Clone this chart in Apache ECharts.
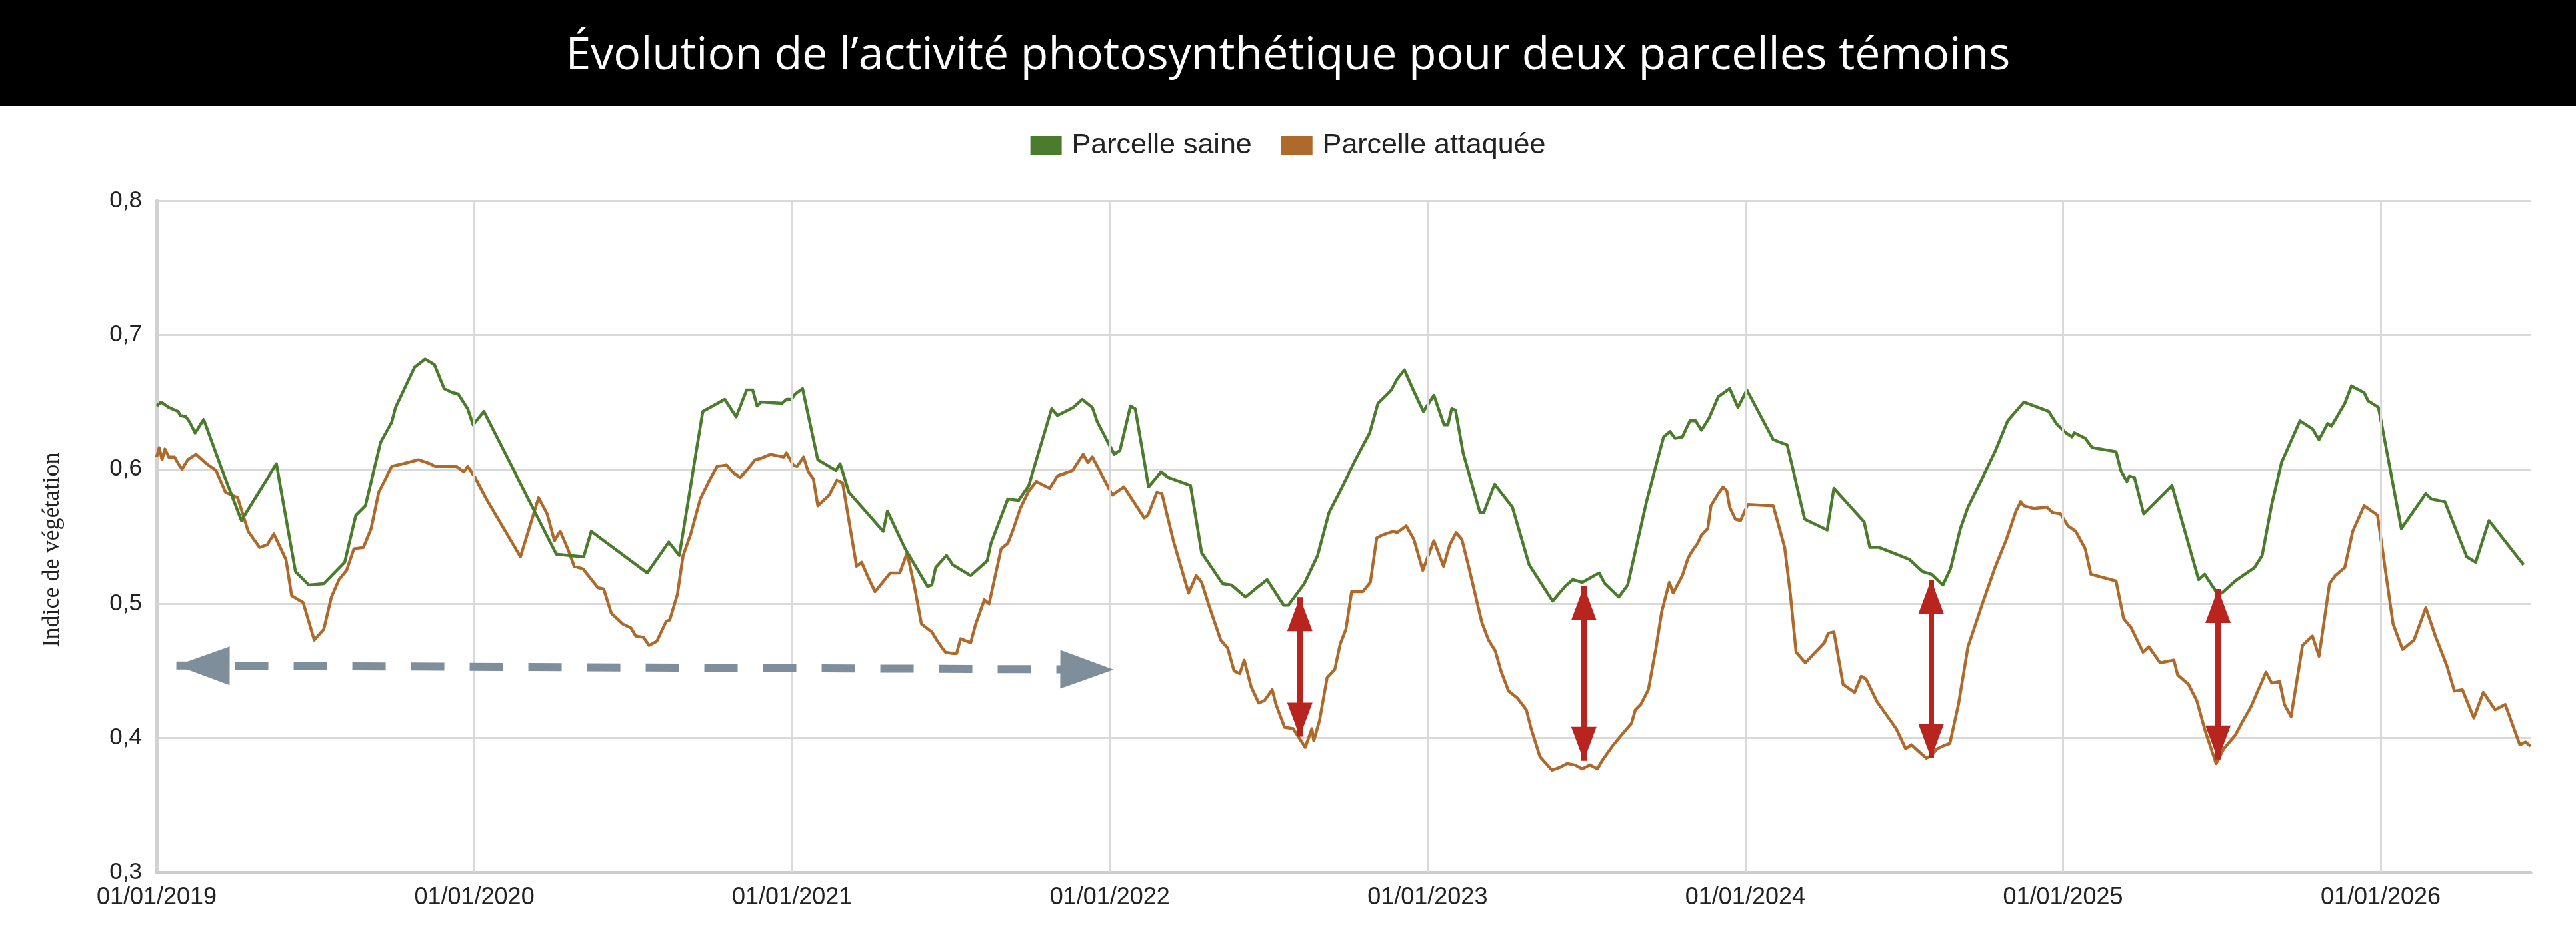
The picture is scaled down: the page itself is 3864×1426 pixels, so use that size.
<!DOCTYPE html>
<html>
<head>
<meta charset="utf-8">
<script src="https://cdn.jsdelivr.net/npm/echarts@6/dist/echarts.min.js"></script>
<style>
  html, body { margin: 0; padding: 0; background: #fff; }
  #chart { width: 3864px; height: 1426px; }
</style>
</head>
<body>
<div id="chart"></div>
<script>
// time is in decimal years (2019.5 = mid 2019)
var titleText = 'Évolution de l’activité photosynthétique pour deux parcelles témoins';
var seriesNames = ['Parcelle saine', 'Parcelle attaquée'];
var yearTicks = [2019, 2020, 2021, 2022, 2023, 2024, 2025, 2026];

var saine = [
    [2019.000, 0.647], [2019.014, 0.650], [2019.038, 0.646], [2019.068, 0.643], [2019.074, 0.640],
    [2019.092, 0.639], [2019.104, 0.635], [2019.121, 0.627], [2019.148, 0.637], [2019.205, 0.600],
    [2019.267, 0.562], [2019.282, 0.568], [2019.377, 0.604], [2019.437, 0.524], [2019.479, 0.514],
    [2019.526, 0.515], [2019.592, 0.531], [2019.627, 0.566], [2019.657, 0.573], [2019.705, 0.620],
    [2019.740, 0.635], [2019.752, 0.646], [2019.812, 0.676], [2019.845, 0.682], [2019.874, 0.678],
    [2019.905, 0.660], [2019.931, 0.657], [2019.949, 0.656], [2019.979, 0.645], [2019.996, 0.633],
    [2020.030, 0.643], [2020.258, 0.537], [2020.300, 0.536], [2020.344, 0.535], [2020.368, 0.554],
    [2020.544, 0.523], [2020.612, 0.546], [2020.645, 0.536], [2020.719, 0.643], [2020.788, 0.652],
    [2020.824, 0.639], [2020.857, 0.659], [2020.876, 0.659], [2020.890, 0.647], [2020.902, 0.650],
    [2020.968, 0.649], [2020.983, 0.652], [2020.998, 0.652], [2021.010, 0.656], [2021.033, 0.660],
    [2021.081, 0.607], [2021.138, 0.599], [2021.151, 0.604], [2021.179, 0.583], [2021.287, 0.554],
    [2021.300, 0.569], [2021.356, 0.541], [2021.426, 0.513], [2021.440, 0.514], [2021.452, 0.527],
    [2021.486, 0.536], [2021.506, 0.529], [2021.562, 0.521], [2021.614, 0.532], [2021.626, 0.545],
    [2021.679, 0.578], [2021.713, 0.577], [2021.745, 0.588], [2021.817, 0.645], [2021.835, 0.640],
    [2021.885, 0.646], [2021.913, 0.652], [2021.945, 0.646], [2021.961, 0.635], [2022.014, 0.611],
    [2022.032, 0.614], [2022.065, 0.647], [2022.080, 0.645], [2022.122, 0.587], [2022.161, 0.598],
    [2022.184, 0.594], [2022.254, 0.588], [2022.289, 0.538], [2022.355, 0.515], [2022.383, 0.514],
    [2022.427, 0.505], [2022.463, 0.512], [2022.495, 0.518], [2022.547, 0.499], [2022.562, 0.499],
    [2022.612, 0.515], [2022.654, 0.536], [2022.690, 0.568], [2022.725, 0.584], [2022.773, 0.607],
    [2022.818, 0.627], [2022.844, 0.649], [2022.874, 0.656], [2022.886, 0.659], [2022.904, 0.667],
    [2022.927, 0.674], [2022.957, 0.658], [2022.987, 0.643], [2023.020, 0.655], [2023.052, 0.633],
    [2023.064, 0.633], [2023.076, 0.645], [2023.088, 0.644], [2023.112, 0.612], [2023.165, 0.568],
    [2023.177, 0.568], [2023.211, 0.589], [2023.267, 0.572], [2023.320, 0.529], [2023.394, 0.502],
    [2023.433, 0.513], [2023.457, 0.518], [2023.487, 0.516], [2023.540, 0.523], [2023.558, 0.515],
    [2023.602, 0.505], [2023.630, 0.514], [2023.689, 0.576], [2023.743, 0.624], [2023.763, 0.628],
    [2023.779, 0.623], [2023.802, 0.624], [2023.826, 0.636], [2023.844, 0.636], [2023.862, 0.629],
    [2023.886, 0.638], [2023.915, 0.654], [2023.951, 0.660], [2023.977, 0.646], [2024.005, 0.659],
    [2024.088, 0.622], [2024.132, 0.618], [2024.187, 0.563], [2024.258, 0.555], [2024.279, 0.586],
    [2024.374, 0.561], [2024.392, 0.542], [2024.421, 0.542], [2024.475, 0.537], [2024.517, 0.533],
    [2024.558, 0.524], [2024.586, 0.522], [2024.622, 0.514], [2024.646, 0.526], [2024.677, 0.556],
    [2024.701, 0.572], [2024.743, 0.592], [2024.786, 0.613], [2024.826, 0.636], [2024.877, 0.650],
    [2024.955, 0.643], [2024.979, 0.634], [2025.004, 0.628], [2025.028, 0.624], [2025.036, 0.627],
    [2025.070, 0.623], [2025.092, 0.616], [2025.167, 0.613], [2025.182, 0.599], [2025.201, 0.591],
    [2025.209, 0.595], [2025.225, 0.594], [2025.254, 0.567], [2025.343, 0.588], [2025.427, 0.518],
    [2025.446, 0.522], [2025.482, 0.509], [2025.500, 0.508], [2025.542, 0.517], [2025.603, 0.527],
    [2025.627, 0.536], [2025.657, 0.574], [2025.688, 0.605], [2025.746, 0.636], [2025.785, 0.630],
    [2025.806, 0.622], [2025.833, 0.634], [2025.845, 0.632], [2025.887, 0.649], [2025.908, 0.662],
    [2025.948, 0.657], [2025.960, 0.651], [2025.993, 0.646], [2026.065, 0.556], [2026.142, 0.582],
    [2026.160, 0.578], [2026.202, 0.576], [2026.271, 0.535], [2026.299, 0.531], [2026.341, 0.562],
    [2026.450, 0.529]
];

var attaquee = [
    [2019.000, 0.609], [2019.008, 0.616], [2019.017, 0.607], [2019.026, 0.615], [2019.038, 0.609],
    [2019.056, 0.609], [2019.068, 0.604], [2019.080, 0.600], [2019.098, 0.607], [2019.124, 0.611],
    [2019.157, 0.604], [2019.187, 0.599], [2019.217, 0.583], [2019.255, 0.579], [2019.288, 0.554],
    [2019.324, 0.542], [2019.348, 0.544], [2019.369, 0.552], [2019.407, 0.533], [2019.425, 0.506],
    [2019.461, 0.501], [2019.496, 0.473], [2019.526, 0.481], [2019.550, 0.505], [2019.574, 0.518],
    [2019.598, 0.525], [2019.621, 0.541], [2019.651, 0.542], [2019.675, 0.556], [2019.699, 0.583],
    [2019.740, 0.602], [2019.776, 0.604], [2019.824, 0.607], [2019.860, 0.604], [2019.877, 0.602],
    [2019.943, 0.602], [2019.967, 0.598], [2019.979, 0.602], [2020.002, 0.594], [2020.038, 0.578],
    [2020.145, 0.535], [2020.202, 0.579], [2020.229, 0.567], [2020.252, 0.547], [2020.270, 0.554],
    [2020.294, 0.541], [2020.314, 0.528], [2020.342, 0.526], [2020.389, 0.512], [2020.407, 0.511],
    [2020.431, 0.493], [2020.467, 0.485], [2020.493, 0.482], [2020.508, 0.476], [2020.532, 0.475],
    [2020.550, 0.469], [2020.574, 0.472], [2020.604, 0.487], [2020.615, 0.488], [2020.639, 0.507],
    [2020.657, 0.536], [2020.681, 0.552], [2020.711, 0.578], [2020.740, 0.592], [2020.764, 0.602],
    [2020.794, 0.603], [2020.812, 0.598], [2020.836, 0.594], [2020.857, 0.599], [2020.884, 0.607],
    [2020.902, 0.608], [2020.932, 0.611], [2020.974, 0.609], [2020.982, 0.612], [2021.004, 0.603],
    [2021.016, 0.602], [2021.036, 0.609], [2021.051, 0.598], [2021.067, 0.593], [2021.081, 0.573],
    [2021.117, 0.581], [2021.141, 0.592], [2021.159, 0.590], [2021.203, 0.528], [2021.219, 0.531],
    [2021.237, 0.521], [2021.261, 0.509], [2021.309, 0.523], [2021.339, 0.523], [2021.362, 0.538],
    [2021.386, 0.512], [2021.407, 0.485], [2021.440, 0.479], [2021.458, 0.472], [2021.482, 0.464],
    [2021.506, 0.463], [2021.518, 0.463], [2021.530, 0.474], [2021.562, 0.471], [2021.578, 0.485],
    [2021.605, 0.503], [2021.620, 0.500], [2021.658, 0.541], [2021.679, 0.545], [2021.697, 0.556],
    [2021.718, 0.571], [2021.745, 0.584], [2021.769, 0.591], [2021.793, 0.588], [2021.811, 0.586],
    [2021.835, 0.595], [2021.883, 0.599], [2021.916, 0.611], [2021.931, 0.605], [2021.945, 0.609],
    [2022.008, 0.581], [2022.044, 0.587], [2022.050, 0.585], [2022.108, 0.564], [2022.120, 0.566],
    [2022.148, 0.583], [2022.164, 0.582], [2022.200, 0.547], [2022.248, 0.508], [2022.272, 0.521],
    [2022.289, 0.516], [2022.313, 0.498], [2022.349, 0.473], [2022.371, 0.467], [2022.391, 0.450],
    [2022.409, 0.448], [2022.423, 0.458], [2022.445, 0.438], [2022.469, 0.426], [2022.487, 0.428],
    [2022.511, 0.436], [2022.523, 0.425], [2022.550, 0.408], [2022.577, 0.407], [2022.615, 0.393],
    [2022.636, 0.407], [2022.642, 0.398], [2022.660, 0.413], [2022.684, 0.445], [2022.708, 0.451],
    [2022.725, 0.470], [2022.743, 0.481], [2022.761, 0.509], [2022.796, 0.509], [2022.820, 0.516],
    [2022.840, 0.549], [2022.856, 0.551], [2022.892, 0.554], [2022.904, 0.553], [2022.933, 0.558],
    [2022.957, 0.548], [2022.985, 0.525], [2023.020, 0.547], [2023.050, 0.528], [2023.070, 0.544],
    [2023.090, 0.553], [2023.108, 0.548], [2023.130, 0.527], [2023.171, 0.486], [2023.192, 0.473],
    [2023.213, 0.465], [2023.231, 0.450], [2023.255, 0.435], [2023.282, 0.430], [2023.311, 0.421],
    [2023.326, 0.407], [2023.354, 0.386], [2023.392, 0.376], [2023.415, 0.378], [2023.439, 0.381],
    [2023.463, 0.380], [2023.487, 0.377], [2023.511, 0.380], [2023.535, 0.377], [2023.549, 0.383],
    [2023.582, 0.394], [2023.606, 0.401], [2023.624, 0.406], [2023.642, 0.411], [2023.654, 0.421],
    [2023.671, 0.425], [2023.695, 0.436], [2023.719, 0.467], [2023.737, 0.494], [2023.761, 0.516],
    [2023.773, 0.508], [2023.802, 0.521], [2023.820, 0.534], [2023.832, 0.539], [2023.850, 0.545],
    [2023.862, 0.551], [2023.882, 0.556], [2023.892, 0.573], [2023.915, 0.582], [2023.930, 0.587],
    [2023.942, 0.584], [2023.951, 0.572], [2023.969, 0.563], [2023.985, 0.562], [2024.008, 0.574],
    [2024.088, 0.573], [2024.124, 0.542], [2024.142, 0.507], [2024.160, 0.464], [2024.189, 0.456],
    [2024.249, 0.471], [2024.261, 0.478], [2024.279, 0.479], [2024.308, 0.440], [2024.344, 0.434],
    [2024.365, 0.446], [2024.380, 0.444], [2024.415, 0.427], [2024.475, 0.407], [2024.505, 0.392],
    [2024.523, 0.395], [2024.546, 0.390], [2024.570, 0.385], [2024.586, 0.387], [2024.604, 0.392],
    [2024.622, 0.394], [2024.644, 0.396], [2024.671, 0.425], [2024.701, 0.468], [2024.749, 0.502],
    [2024.786, 0.527], [2024.822, 0.548], [2024.852, 0.569], [2024.867, 0.576], [2024.877, 0.573],
    [2024.907, 0.571], [2024.949, 0.572], [2024.967, 0.568], [2024.992, 0.567], [2025.016, 0.558],
    [2025.040, 0.554], [2025.070, 0.541], [2025.088, 0.522], [2025.167, 0.517], [2025.191, 0.489],
    [2025.215, 0.482], [2025.252, 0.464], [2025.270, 0.468], [2025.306, 0.456], [2025.349, 0.458],
    [2025.361, 0.447], [2025.395, 0.440], [2025.421, 0.428], [2025.448, 0.405], [2025.482, 0.381],
    [2025.506, 0.392], [2025.542, 0.402], [2025.567, 0.413], [2025.591, 0.423], [2025.615, 0.436],
    [2025.639, 0.449], [2025.657, 0.441], [2025.682, 0.442], [2025.697, 0.425], [2025.718, 0.416],
    [2025.754, 0.469], [2025.785, 0.476], [2025.806, 0.461], [2025.839, 0.515], [2025.857, 0.521],
    [2025.887, 0.527], [2025.912, 0.554], [2025.948, 0.573], [2025.990, 0.566], [2026.039, 0.485],
    [2026.069, 0.466], [2026.105, 0.473], [2026.142, 0.497], [2026.172, 0.476], [2026.208, 0.454],
    [2026.232, 0.435], [2026.257, 0.436], [2026.293, 0.415], [2026.323, 0.434], [2026.360, 0.421],
    [2026.392, 0.425], [2026.438, 0.395], [2026.456, 0.397], [2026.472, 0.394]
];

// red double arrows: gap between the two plots in summer
var gapDates = [2022.598, 2023.492, 2024.585, 2025.488];
var gapTop = [0.505, 0.513, 0.518, 0.511];
var gapBottom = [0.401, 0.383, 0.385, 0.384];

// grey dashed arrow over the first three years
var periodFrom = [2019.062, 0.454];
var periodTo = [2022.012, 0.451];

var green = '#4b7b2c';
var orange = '#ad6a2b';
var red = '#b8241e';
var slate = '#7e8e9b';
var gridGrey = '#d9d9d9';

var chart = echarts.init(document.getElementById('chart'), null, {renderer: 'canvas'});

function doubleArrow(from, to, color, width, dash, head) {
    return [
        {coord: from, symbol: 'triangle', symbolSize: head, symbolOffset: [0, head[1] / 2],
         lineStyle: {color: color, width: width, type: dash}, itemStyle: {color: color}},
        {coord: to, symbol: 'triangle', symbolSize: head, symbolOffset: [0, head[1] / 2],
         itemStyle: {color: color}}
    ];
}

var arrows = [doubleArrow(periodFrom, periodTo, slate, 12, [50, 38], [58, 80])];
for (var i = 0; i < gapDates.length; i++) {
    arrows.push(doubleArrow([gapDates[i], gapTop[i]], [gapDates[i], gapBottom[i]], red, 8, 'solid', [38, 51]));
}

// year grid lines (the first one is the y axis itself), none at the right edge
var yearLines = yearTicks.slice(1).map(function (y) {
    return {xAxis: y};
});

var option = {
    backgroundColor: '#fff',
    animation: false,
    graphic: [{
        type: 'rect',
        left: 0,
        top: 0,
        z: 0,
        shape: {width: 3864, height: 159},
        style: {fill: '#000'}
    }],
    title: {
        text: titleText,
        left: 'center',
        top: 46,
        z: 10,
        textStyle: {color: '#fff', fontSize: 68, fontWeight: 'normal', fontFamily: 'Open Sans'}
    },
    legend: {
        data: seriesNames,
        top: 192,
        left: 'center',
        icon: 'rect',
        itemWidth: 47,
        itemHeight: 29,
        itemGap: 44,
        textStyle: {fontSize: 43, color: '#222', fontFamily: 'Liberation Sans', padding: [0, 0, 0, 10]}
    },
    grid: {left: 235, right: 68, top: 301, bottom: 118, containLabel: false},
    xAxis: {
        type: 'value',
        min: 2019,
        max: 2026.472,
        interval: 1,
        axisLine: {show: true, lineStyle: {color: '#cccccc', width: 5}},
        axisTick: {show: false},
        splitLine: {show: false},
        axisLabel: {
            fontSize: 36,
            color: '#222',
            fontFamily: 'Liberation Sans',
            margin: 20,
            formatter: function (v) {
                return yearTicks.indexOf(v) >= 0 ? '01/01/' + v : '';
            }
        }
    },
    yAxis: {
        type: 'value',
        min: 0.3,
        max: 0.8,
        interval: 0.1,
        name: 'Indice de végétation',
        nameLocation: 'middle',
        nameRotate: 90,
        nameGap: 138,
        nameTextStyle: {fontSize: 36, color: '#222', fontFamily: 'Liberation Serif', padding: [0, 40, 0, 0]},
        axisLine: {show: true, lineStyle: {color: '#d2d2d2', width: 5}},
        axisTick: {show: false},
        splitLine: {show: true, lineStyle: {color: gridGrey, width: 3}},
        axisLabel: {
            fontSize: 35,
            color: '#222',
            fontFamily: 'Liberation Sans',
            margin: 22,
            formatter: function (v) {
                return v.toFixed(1).replace('.', ',');
            }
        }
    },
    series: [
        {
            name: 'grille',
            type: 'line',
            data: [],
            z: 1,
            markLine: {
                silent: true,
                animation: false,
                symbol: 'none',
                label: {show: false},
                lineStyle: {color: gridGrey, width: 3, type: 'solid'},
                data: yearLines
            }
        },
        {
            name: seriesNames[0],
            type: 'line',
            data: saine,
            showSymbol: false,
            color: green,
            lineStyle: {color: green, width: 4.5, join: 'round'},
            z: 3
        },
        {
            name: seriesNames[1],
            type: 'line',
            data: attaquee,
            showSymbol: false,
            color: orange,
            lineStyle: {color: orange, width: 4.5, join: 'round'},
            z: 2
        },
        {
            name: 'annotations',
            type: 'line',
            data: [],
            z: 5,
            markLine: {
                silent: true,
                animation: false,
                label: {show: false},
                data: arrows
            }
        }
    ]
};

chart.setOption(option);
</script>
</body>
</html>
